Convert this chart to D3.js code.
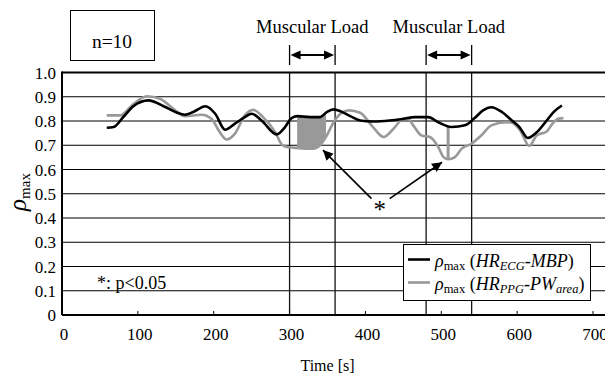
<!DOCTYPE html>
<html>
<head>
<meta charset="utf-8">
<script src="https://cdn.jsdelivr.net/npm/d3@7"></script>
<style>
  body { margin: 0; background: #fff; }
  svg { display: block; font-family: "Liberation Serif", "Times New Roman", serif; }
</style>
</head>
<body>
<div class="div-chart"></div>
<script>
// rho_max (HR_ECG - MBP), black line
const timeEcg = [59, 68, 81, 94, 114, 134, 151, 162, 173, 189, 202, 215, 228, 241, 250, 263, 283, 294, 302, 310,
    327, 340, 349, 358, 367, 380, 393, 410, 432, 450, 465, 483, 496, 514, 531, 544, 555, 566, 580, 593,
    603, 614, 626, 639, 648, 659];
const rhoEcg = [0.772, 0.775, 0.817, 0.861, 0.885, 0.861, 0.835, 0.826, 0.837, 0.861, 0.83, 0.764, 0.789, 0.816, 0.83, 0.802, 0.745, 0.775, 0.81, 0.82,
    0.816, 0.816, 0.837, 0.848, 0.84, 0.82, 0.802, 0.798, 0.802, 0.809, 0.816, 0.816, 0.795, 0.775, 0.782, 0.812, 0.844, 0.857, 0.837, 0.802,
    0.775, 0.73, 0.754, 0.802, 0.837, 0.864];

// rho_max (HR_PPG - PW_area), gray line
const timePpg = [59, 77, 92, 112, 129, 151, 162, 184, 197, 208, 217, 228, 241, 252, 265, 281, 290, 296, 305, 323,
    331, 340, 349, 358, 367, 378, 393, 410, 424, 437, 450, 456, 463, 474, 485, 496, 503, 509, 518, 527,
    540, 553, 566, 585, 593, 604, 616, 626, 639, 648, 654, 661];
const rhoPpg = [0.823, 0.823, 0.864, 0.902, 0.892, 0.84, 0.82, 0.826, 0.809, 0.754, 0.724, 0.748, 0.823, 0.846, 0.816, 0.754, 0.702, 0.693, 0.69, 0.686,
    0.686, 0.70, 0.74, 0.795, 0.83, 0.844, 0.834, 0.775, 0.734, 0.768, 0.809, 0.809, 0.782, 0.74, 0.734, 0.693, 0.651, 0.642, 0.651, 0.686,
    0.707, 0.741, 0.782, 0.795, 0.793, 0.761, 0.697, 0.741, 0.757, 0.795, 0.809, 0.812];

const xTicks = [0, 100, 200, 300, 400, 500, 600, 700];
const yTicks = [0, 0.1, 0.2, 0.3, 0.4, 0.5, 0.6, 0.7, 0.8, 0.9, 1.0];
const loadPeriods = [[300, 360], [480, 540]];
const sigRanges = [[310, 348], [507, 511]];

const width = 605, height = 380;

const svg = d3.select('.div-chart')
    .append('svg')
    .attr('width', width)
    .attr('height', height);

const x = d3.scaleLinear().domain([0, 700]).range([62, 593]);
const y = d3.scaleLinear().domain([0, 1]).range([315, 72.5]);

const ecg = timeEcg.map((t, i) => [t, rhoEcg[i]]);
const ppg = timePpg.map((t, i) => [t, rhoPpg[i]]);

// horizontal grid lines
svg.append('g').selectAll('line')
    .data(yTicks.filter(v => v > 0))
    .enter().append('line')
    .attr('x1', x(0)).attr('x2', width)
    .attr('y1', d => y(d)).attr('y2', d => y(d))
    .attr('stroke', '#000')
    .attr('stroke-width', d => d === 1 ? 2 : 1);

// muscular load boundaries
const bounds = loadPeriods.flat();
svg.append('g').selectAll('line')
    .data(bounds)
    .enter().append('line')
    .attr('x1', d => x(d)).attr('x2', d => x(d))
    .attr('y1', y(1)).attr('y2', y(0))
    .attr('stroke', '#111')
    .attr('stroke-width', 1.3);

// shaded significant regions (between the two curves)
const line = d3.line()
    .x(d => x(d[0]))
    .y(d => y(d[1]))
    .curve(d3.curveMonotoneX);
const underArea = d3.area()
    .x(d => x(d[0]))
    .y0(y(0))
    .y1(d => y(d[1]))
    .curve(d3.curveMonotoneX);

const defs = svg.append('defs');
const mask = defs.append('mask').attr('id', 'between');
mask.append('path').attr('d', underArea(ecg)).attr('fill', '#fff');
mask.append('path').attr('d', underArea(ppg)).attr('fill', '#000');

svg.append('g')
    .attr('mask', 'url(#between)')
    .selectAll('rect')
    .data(sigRanges)
    .enter().append('rect')
    .attr('x', d => x(d[0]))
    .attr('width', d => x(d[1]) - x(d[0]))
    .attr('y', y(1))
    .attr('height', y(0) - y(1))
    .attr('fill', '#999');

// curves
svg.append('path')
    .attr('d', line(ppg))
    .attr('fill', 'none')
    .attr('stroke', '#999')
    .attr('stroke-width', 2.6);

svg.append('path')
    .attr('d', line(ecg))
    .attr('fill', 'none')
    .attr('stroke', '#000')
    .attr('stroke-width', 2.6);

// axes
svg.append('line')
    .attr('x1', x(0)).attr('x2', width)
    .attr('y1', y(0)).attr('y2', y(0))
    .attr('stroke', '#000').attr('stroke-width', 2);
svg.append('line')
    .attr('x1', x(0)).attr('x2', x(0))
    .attr('y1', y(0)).attr('y2', y(1) - 1)
    .attr('stroke', '#000').attr('stroke-width', 2);

svg.append('g').selectAll('line')
    .data(xTicks.filter(t => t > 0))
    .enter().append('line')
    .attr('x1', d => x(d)).attr('x2', d => x(d))
    .attr('y1', y(0)).attr('y2', y(0) - 4)
    .attr('stroke', '#000').attr('stroke-width', 1);

svg.append('g').selectAll('text')
    .data(xTicks)
    .enter().append('text')
    .attr('x', d => x(d) + 2)
    .attr('y', 340)
    .attr('text-anchor', 'middle')
    .attr('font-size', 17)
    .text(d => d);

svg.append('g').selectAll('text')
    .data(yTicks)
    .enter().append('text')
    .attr('x', x(0) - 6)
    .attr('y', d => y(d) + 6)
    .attr('text-anchor', 'end')
    .attr('font-size', 17)
    .text(d => d === 0 ? '0' : d3.format('.1f')(d));

svg.append('text')
    .attr('x', x(350))
    .attr('y', 371)
    .attr('text-anchor', 'middle')
    .attr('font-size', 16)
    .text('Time [s]');

const yLabel = svg.append('text')
    .attr('transform', 'translate(26,192) rotate(-90)')
    .attr('text-anchor', 'middle');
yLabel.append('tspan').attr('font-style', 'italic').attr('font-size', 25).text('ρ');
yLabel.append('tspan').attr('font-size', 15).attr('dy', 4).text('max');

// muscular load markers
loadPeriods.forEach(([a, b]) => {
    const g = svg.append('g');
    g.append('text')
        .attr('x', (x(a) + x(b)) / 2)
        .attr('y', 33)
        .attr('text-anchor', 'middle')
        .attr('font-size', 18.5)
        .text('Muscular Load');
    [a, b].forEach(t => g.append('line')
        .attr('x1', x(t)).attr('x2', x(t))
        .attr('y1', 45).attr('y2', 65)
        .attr('stroke', '#000').attr('stroke-width', 1.3));
    g.append('line')
        .attr('x1', x(a) + 8).attr('x2', x(b) - 8)
        .attr('y1', 55).attr('y2', 55)
        .attr('stroke', '#000').attr('stroke-width', 2);
    g.append('path')
        .attr('d', `M${x(a) + 1},55 L${x(a) + 11},50.5 L${x(a) + 11},59.5 Z`)
        .attr('fill', '#000');
    g.append('path')
        .attr('d', `M${x(b) - 1},55 L${x(b) - 11},50.5 L${x(b) - 11},59.5 Z`)
        .attr('fill', '#000');
});

// n=10 box
svg.append('rect')
    .attr('x', 70.5).attr('y', 10.5)
    .attr('width', 84).attr('height', 50)
    .attr('fill', '#fff').attr('stroke', '#000').attr('stroke-width', 1);
svg.append('text')
    .attr('x', 112).attr('y', 47.5)
    .attr('text-anchor', 'middle')
    .attr('font-size', 19.5)
    .text('n=10');

// significance annotation
svg.append('text')
    .attr('x', 97).attr('y', 289)
    .attr('font-size', 18)
    .text('*: p<0.05');

svg.append('text')
    .attr('x', x(419)).attr('y', y(0.44) + 10)
    .attr('text-anchor', 'middle')
    .attr('font-size', 25)
    .text('*');

defs.append('marker')
    .attr('id', 'head')
    .attr('viewBox', '0 0 10 10')
    .attr('refX', 10).attr('refY', 5)
    .attr('markerWidth', 10).attr('markerHeight', 10)
    .attr('markerUnits', 'userSpaceOnUse')
    .attr('orient', 'auto')
    .append('path').attr('d', 'M0,0 L10,5 L0,10 Z').attr('fill', '#000');

const pointers = [
    [[408, 0.48], [344, 0.68]],
    [[432, 0.48], [501, 0.63]]
];
svg.append('g').selectAll('line')
    .data(pointers)
    .enter().append('line')
    .attr('x1', d => x(d[0][0])).attr('y1', d => y(d[0][1]))
    .attr('x2', d => x(d[1][0])).attr('y2', d => y(d[1][1]))
    .attr('stroke', '#000').attr('stroke-width', 1.6)
    .attr('marker-end', 'url(#head)');

// legend
const leg = svg.append('g');
leg.append('rect')
    .attr('x', 403.5).attr('y', 244.5)
    .attr('width', 187).attr('height', 56)
    .attr('fill', '#fff').attr('stroke', '#000').attr('stroke-width', 1);

const legItems = [
    { color: '#000', sub1: 'ECG', rest: '-MBP', sub2: null },
    { color: '#999', sub1: 'PPG', rest: '-PW', sub2: 'area' }
];
legItems.forEach((it, i) => {
    const ly = 259.5 + i * 23;
    leg.append('line')
        .attr('x1', 408).attr('x2', 430)
        .attr('y1', ly).attr('y2', ly)
        .attr('stroke', it.color).attr('stroke-width', 2.6);
    const t = leg.append('text')
        .attr('x', 435).attr('y', ly + 7)
        .attr('font-size', 18);
    t.append('tspan').attr('font-style', 'italic').text('ρ');
    t.append('tspan').attr('font-size', 12.5).attr('dy', 3).text('max');
    t.append('tspan').attr('dy', -3).text(' (');
    t.append('tspan').attr('font-style', 'italic').text('HR');
    t.append('tspan').attr('font-style', 'italic').attr('font-size', 12.5).attr('dy', 3).text(it.sub1);
    t.append('tspan').attr('font-style', 'italic').attr('dy', -3).text(it.rest);
    if (it.sub2) {
        t.append('tspan').attr('font-style', 'italic').attr('font-size', 12.5).attr('dy', 3).text(it.sub2);
        t.append('tspan').attr('dy', -3).text(')');
    } else {
        t.append('tspan').text(')');
    }
});
</script>
</body>
</html>
